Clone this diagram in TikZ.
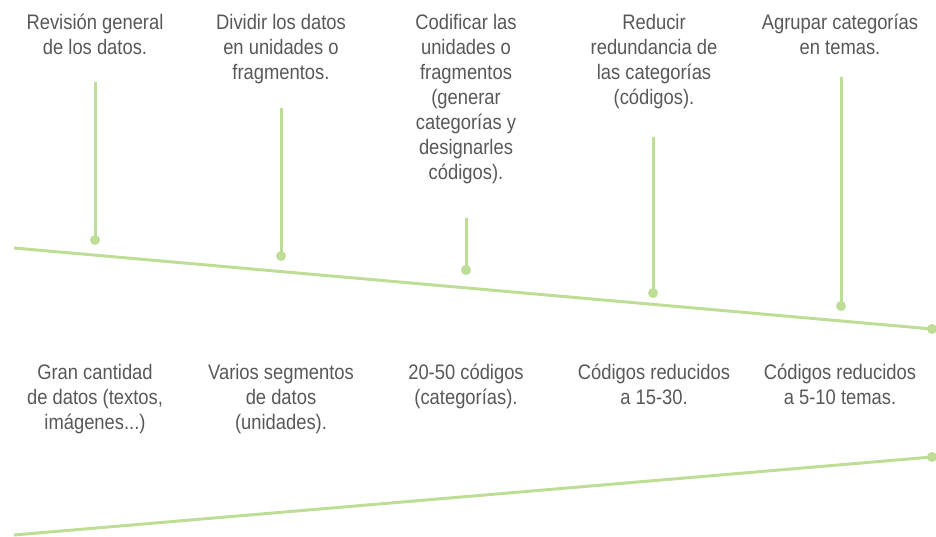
\documentclass[tikz,border=0pt]{standalone}
\usepackage{fontspec}
\setmainfont{Liberation Sans}[FakeStretch=0.875]
\usetikzlibrary{positioning}
\definecolor{verde}{RGB}{190,221,150}
\definecolor{gris}{RGB}{88,88,88}
\tikzset{
  paso/.style      = {align=center, anchor=north, inner sep=0pt, text=gris, font=\fontsize{21}{25}\selectfont},
  resultado/.style = {paso},
  punto/.style     = {circle, fill=verde, inner sep=0pt, minimum size=10pt},
  linea/.style     = {draw=verde, line width=3pt},
  tallo/.style     = {draw=verde, line width=3pt}
}
\begin{document}
\begin{tikzpicture}[x=1pt, y=1pt]
  \useasboundingbox (0,0) rectangle (936,537);

  % pasos (arriba)
  \node[paso] (n1) at (95,523)  {Revisión general\\de los datos.};
  \node[paso] (n2) at (281,523) {Dividir los datos\\en unidades o\\fragmentos.};
  \node[paso] (n3) at (466,523) {Codificar las\\unidades o\\fragmentos\\(generar\\categorías y\\designarles\\códigos).};
  \node[paso] (n4) at (654,523) {Reducir\\redundancia de\\las categorías\\(códigos).};
  \node[paso] (n5) at (840,523) {Agrupar categorías\\en temas.};

  % resultados (abajo)
  \node[resultado] (r1) at (95,173)  {Gran cantidad\\de datos (textos,\\imágenes...)};
  \node[resultado] (r2) at (281,173) {Varios segmentos\\de datos\\(unidades).};
  \node[resultado] (r3) at (466,173) {20-50 códigos\\(categorías).};
  \node[resultado] (r4) at (654,173) {Códigos reducidos\\a 15-30.};
  \node[resultado] (r5) at (840,173) {Códigos reducidos\\a 5-10 temas.};

  % puntos y tallos
  \node[punto] (p1) at (95,297)  {};
  \node[punto] (p2) at (281,281) {};
  \node[punto] (p3) at (466,267) {};
  \node[punto] (p4) at (653,244) {};
  \node[punto] (p5) at (841,231) {};
  \coordinate (t1) at (95,455);
  \coordinate (t2) at (281,429);
  \coordinate (t3) at (466,319);
  \coordinate (t4) at (653,400);
  \coordinate (t5) at (841,460);
  \draw[tallo] (t1) -- (p1.center);
  \draw[tallo] (t2) -- (p2.center);
  \draw[tallo] (t3) -- (p3.center);
  \draw[tallo] (t4) -- (p4.center);
  \draw[tallo] (t5) -- (p5.center);

  % lineas
  \coordinate (a0) at (14,289);
  \coordinate (b0) at (14,2);
  \node[punto] (a1) at (932,208) {};
  \node[punto] (b1) at (932,80)  {};
  \draw[linea] (a0) -- (a1.center);
  \draw[linea] (b0) -- (b1.center);

\end{tikzpicture}
\end{document}
